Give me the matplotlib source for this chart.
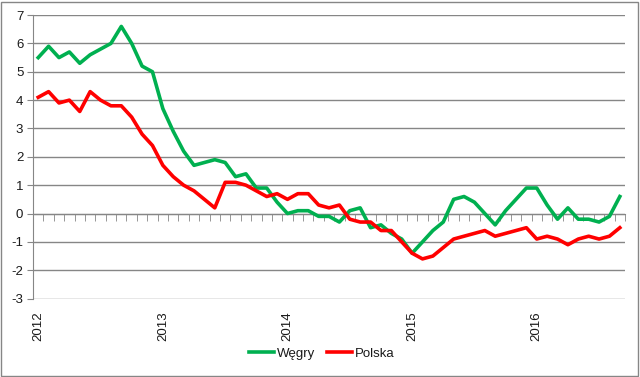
"""
Inflacja CPI r/r: Wegry vs Polska, 2012-2016 (miesiecznie).
Wykres w stylu Excela: linia zera z kreskami miesiecy, lata pod wykresem.
"""
import numpy as np
import matplotlib.pyplot as plt
from matplotlib.patches import Rectangle

# miesiace od 2012-01 do 2016-09
YEARS = ["2012", "2013", "2014", "2015", "2016"]
N_MONTHS = 57

WEGRY = [5.5, 5.9, 5.5, 5.7, 5.3, 5.6, 5.8, 6.0, 6.6, 6.0, 5.2, 5.0,
         3.7, 2.9, 2.2, 1.7, 1.8, 1.9, 1.8, 1.3, 1.4, 0.9, 0.9, 0.4,
         0.0, 0.1, 0.1, -0.1, -0.1, -0.3, 0.1, 0.2, -0.5, -0.4, -0.7, -0.9,
         -1.4, -1.0, -0.6, -0.3, 0.5, 0.6, 0.4, 0.0, -0.4, 0.1, 0.5, 0.9,
         0.9, 0.3, -0.2, 0.2, -0.2, -0.2, -0.3, -0.1, 0.6]
POLSKA = [4.1, 4.3, 3.9, 4.0, 3.6, 4.3, 4.0, 3.8, 3.8, 3.4, 2.8, 2.4,
          1.7, 1.3, 1.0, 0.8, 0.5, 0.2, 1.1, 1.1, 1.0, 0.8, 0.6, 0.7,
          0.5, 0.7, 0.7, 0.3, 0.2, 0.3, -0.2, -0.3, -0.3, -0.6, -0.6, -1.0,
          -1.4, -1.6, -1.5, -1.2, -0.9, -0.8, -0.7, -0.6, -0.8, -0.7, -0.6, -0.5,
          -0.9, -0.8, -0.9, -1.1, -0.9, -0.8, -0.9, -0.8, -0.5]

GRAY = "#868686"
TXT = "#1a1a1a"
FS = 9.5
plt.rcParams["font.family"] = ["Liberation Sans", "DejaVu Sans"]
plt.rcParams["axes.unicode_minus"] = False

fig = plt.figure(figsize=(6.4, 3.77), dpi=100)
ax = fig.add_axes([0.0516, 0.208, 0.925, 0.752])

x = np.arange(N_MONTHS)
ax.plot(x, WEGRY, color="#00B050", lw=2.6, label="Węgry", zorder=3)
ax.plot(x, POLSKA, color="#FF0000", lw=2.6, label="Polska", zorder=3)

ax.set_xlim(-0.5, N_MONTHS - 0.5)
ax.set_ylim(-3, 7)
ax.set_yticks(range(-3, 8))
ax.yaxis.grid(True, color=GRAY, lw=1)
ax.set_axisbelow(True)
ax.tick_params(axis="y", length=4, color=GRAY, labelsize=FS, pad=3,
               labelcolor=TXT)

for s in ("top", "right"):
    ax.spines[s].set_visible(False)
ax.spines["left"].set_color(GRAY)
ax.spines["bottom"].set_position(("data", 0))
ax.spines["bottom"].set_color(GRAY)

# kreski miesiecy na linii zera
ax.set_xticks([])
ax.set_xticks(np.arange(0.5, N_MONTHS), minor=True)
ax.tick_params(axis="x", which="minor", direction="out", length=5, color=GRAY)

# etykiety lat pod wykresem
sec = ax.secondary_xaxis("bottom")
sec.set_xticks(np.arange(len(YEARS)) * 12, YEARS)
sec.tick_params(length=0, rotation=90, labelsize=FS, pad=9, labelcolor=TXT)
sec.spines["bottom"].set_visible(False)

fig.legend(loc="center", bbox_to_anchor=(0.503, 0.062), ncol=2, frameon=False,
           fontsize=FS, handlelength=1.9, handletextpad=0.2, columnspacing=0.9,
           labelcolor=TXT)

fig.patches.append(Rectangle((0.002, 0.003), 0.995, 0.993, transform=fig.transFigure,
                             fill=False, edgecolor=GRAY, lw=1))

fig.savefig("out.png", dpi=100)
